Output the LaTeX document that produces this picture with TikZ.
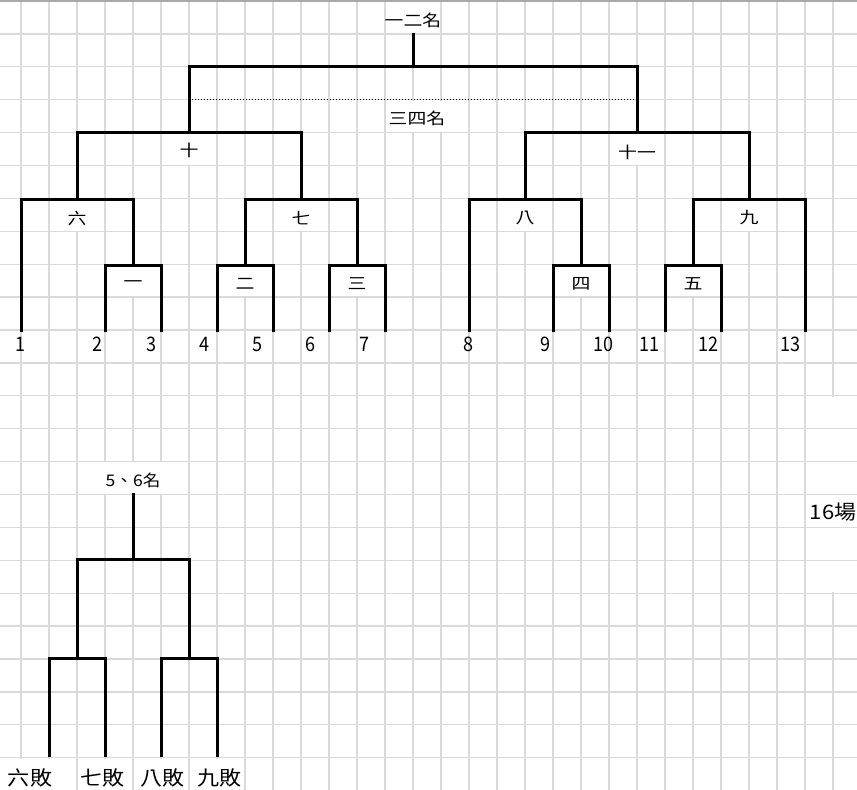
\documentclass[tikz,border=0pt]{standalone}
\usepackage{fontspec}
\newfontfamily\cjkA[FakeStretch=1.18]{Noto Sans CJK TC}
\newfontfamily\cjkB[FakeStretch=1.1]{Noto Sans CJK TC}
\newfontfamily\cjkC[FakeStretch=1.1]{Noto Sans CJK TC}
\newfontfamily\numfont[FakeStretch=0.9]{Noto Sans CJK TC}
\definecolor{gridgray}{RGB}{218,218,218}
\definecolor{bordergray}{RGB}{170,170,170}
\begin{document}
\begin{tikzpicture}[x=1pt,y=-1pt,
  bracket/.style={line width=3pt, line join=miter, draw=black},
  gridline/.style={line width=1.3pt, draw=gridgray},
  toplab/.style={font=\cjkA\fontsize{16}{16}\selectfont, inner sep=0pt},
  numlab/.style={font=\numfont\fontsize{20}{20}\selectfont, inner sep=0pt},
  botlab/.style={font=\cjkB\fontsize{20}{20}\selectfont, inner sep=0pt},
  midlab/.style={font=\cjkC\fontsize{16}{16}\selectfont, inner sep=0pt},
]
\useasboundingbox (0,0) rectangle (857,790);
\fill[white] (0,0) rectangle (857,790);
% grid
\foreach \i in {0,...,29} \draw[gridline] ({21+28*\i},0) -- ({21+28*\i},790);
\foreach \j in {1,...,24} \draw[gridline] (0,{1+32.9*\j}) -- (857,{1+32.9*\j});
\draw[line width=2pt, draw=bordergray] (0,0.8) -- (857,0.8);
% grid segments hidden under overflowing cell text
\newcommand\hidev[2]{\fill[white] ({#1-1.2},{1+32.9*#2+0.8}) rectangle ({#1+1.2},{1+32.9*(#2+1)-0.8});}
\hidev{413}{0}
\hidev{413}{3}\hidev{441}{3}
\hidev{189}{4}\hidev{637}{4}
\foreach \x in {77,301,525,749} {\hidev{\x}{6}}
\foreach \x in {133,245,357,581,693} {\hidev{\x}{8}}
\foreach \x in {105,133,161} {\hidev{\x}{14}}
\foreach \x in {21,49,105,161,217} {\hidev{\x}{23}}
\fill[white] (831.8,396.8) rectangle (834.2,592);
\foreach \j in {12,...,17} \draw[gridline] (829,{1+32.9*\j}) -- (857,{1+32.9*\j});

\newcommand\bk[3]{\draw[bracket] (#1) -- (#1 |- #3) -- (#2 |- #3) -- (#2);}

% leaves
\foreach \n/\x in {1/21,2/105,3/161,4/217,5/273,6/329,7/385,8/469,9/553,10/609,11/665,12/721,13/805}
  \coordinate (L\n) at (\x,332);
% junctions
\coordinate (mA) at (133,265);
\coordinate (mB) at (245,265);
\coordinate (mC) at (357,265);
\coordinate (mD) at (581,265);
\coordinate (mE) at (693,265);
\coordinate (m6) at (77,199);
\coordinate (m7) at (301,199);
\coordinate (m8) at (525,199);
\coordinate (m9) at (749,199);
\coordinate (m10) at (189,132);
\coordinate (m11) at (637,132);
\coordinate (mF) at (413,66);
\coordinate (T) at (413,33);
\coordinate (D1) at (189,99);
\coordinate (D2) at (636,99);

\bk{L2}{L3}{mA}
\bk{L4}{L5}{mB}
\bk{L6}{L7}{mC}
\bk{L9}{L10}{mD}
\bk{L11}{L12}{mE}
\bk{L1}{mA}{m6}
\bk{mB}{mC}{m7}
\bk{L8}{mD}{m8}
\bk{mE}{L13}{m9}
\bk{m6}{m7}{m10}
\bk{m8}{m9}{m11}
\bk{m10}{m11}{mF}
\draw[bracket] (mF) -- (T);
\draw[line width=1pt, dotted] (D1) -- (D2);

% labels
\node[toplab] (t12) at (413,20) {一二名};
\node[toplab] (t34) at (417,118) {三四名};
\node[toplab] (n10) at (189,150) {十};
\node[toplab] (n11) at (637,152) {十一};
\node[toplab] (n6) at (77,218) {六};
\node[toplab] (n7) at (301,218) {七};
\node[toplab] (n8) at (525,218) {八};
\node[toplab] (n9) at (749,218) {九};
\node[toplab] (n1) at (133,284) {一};
\node[toplab] (n2) at (245,284) {二};
\node[toplab] (n3) at (357,284) {三};
\node[toplab] (n4) at (581,284) {四};
\node[toplab] (n5) at (693,284) {五};

\foreach \n/\x in {1/20,2/97,3/151,4/204,5/257,6/310,7/364,8/468,9/545,10/603,11/649,12/708,13/790}
  \node[numlab] (num\n) at (\x,344) {\n};

% bottom bracket
\coordinate (BT) at (133,493);
\coordinate (BF) at (133,559);
\coordinate (Bl) at (77,658);
\coordinate (Br) at (189,658);
\coordinate (B1) at (49,757);
\coordinate (B2) at (105,757);
\coordinate (B3) at (161,757);
\coordinate (B4) at (217,757);
\bk{B1}{B2}{Bl}
\bk{B3}{B4}{Br}
\bk{Bl}{Br}{BF}
\draw[bracket] (BF) -- (BT);

\node[midlab] (t56) at (133,480) {5、6名};
\node[botlab] (b6) at (30,778) {六敗};
\node[botlab] (b7) at (102,778) {七敗};
\node[botlab] (b8) at (162,778) {八敗};
\node[botlab] (b9) at (219,778) {九敗};
\node[botlab] (c16) at (833,512) {16場};
\end{tikzpicture}
\end{document}
